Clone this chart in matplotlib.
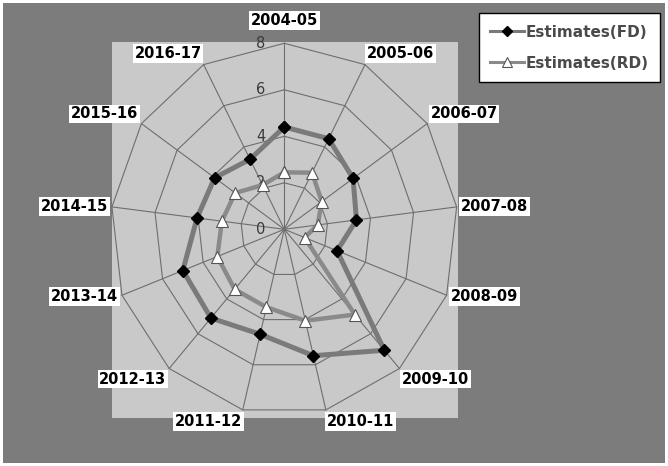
import numpy as np
import matplotlib
matplotlib.use('Agg')
import matplotlib.pyplot as plt
from matplotlib.patches import Rectangle

# categories (fiscal years) and the two estimate series
years = ["2004-05", "2005-06", "2006-07", "2007-08", "2008-09", "2009-10", "2010-11",
         "2011-12", "2012-13", "2013-14", "2014-15", "2015-16", "2016-17"]
fd_values = [4.4, 4.4, 3.85, 3.35, 2.6, 6.95, 5.6, 4.65, 5.1, 5.0, 4.05, 3.9, 3.4]
rd_values = [2.45, 2.75, 2.1, 1.55, 1.0, 4.9, 4.05, 3.45, 3.45, 3.3, 2.9, 2.75, 2.15]
ring_values = [0, 2, 4, 6, 8]

GRID = "#6e6e6e"


def closed(vals):
    return np.append(vals, vals[0])


fig = plt.figure(figsize=(6.68, 4.66), dpi=100)
fig.patch.set_facecolor("#7c7c7c")
fig.patch.set_edgecolor("white")
fig.patch.set_linewidth(3)

# light square plot area behind the radar
fig.add_artist(Rectangle((0.1677, 0.103), 0.518, 0.807, transform=fig.transFigure,
                         facecolor="#c9c9c9", edgecolor="none", zorder=-1))

ax = fig.add_axes([0.1657, 0.1088, 0.5198, 0.7983], projection="polar")
ax.set_aspect("auto")
ax.set_theta_zero_location("N")
ax.set_theta_direction(-1)
ax.set_ylim(0, 8)
ax.patch.set_visible(False)
ax.grid(False)
ax.spines["polar"].set_visible(False)
ax.set_xticks([])
ax.set_yticks([])

angles = np.linspace(0, 2 * np.pi, len(years), endpoint=False)
th = closed(angles)

# polygon rings and spokes
for v in ring_values[1:]:
    ax.plot(th, [v] * len(th), color=GRID, lw=0.8, clip_on=False, zorder=1)
for a in angles:
    ax.plot([a, a], [0, ring_values[-1]], color=GRID, lw=0.8, clip_on=False, zorder=1)

# radial value labels along the top spoke
for v in ring_values:
    ax.annotate(str(v), xy=(0, v), xytext=(-17, 0), textcoords="offset points",
                ha="center", va="center", fontsize=10.5, color="#3a3a3a",
                annotation_clip=False)

# category labels just outside the outer ring
for a, name in zip(angles, years):
    s, c = np.sin(a), np.cos(a)
    ha = "left" if s > 0.01 else ("right" if s < -0.01 else "center")
    va = "bottom" if c > 0.3 else ("top" if c < -0.6 else "center")
    d = 11 if abs(s) < 0.01 else 3
    ax.annotate(name, xy=(a, ring_values[-1]), xytext=(d * s, d * c),
                textcoords="offset points", ha=ha, va=va, fontsize=10.5,
                fontweight="bold", color="black", annotation_clip=False,
                bbox=dict(boxstyle="square,pad=0.12", fc="white", ec="none"))

ax.plot(th, closed(fd_values), color="#7a7a7a", lw=3.6, marker="D", ms=6.5,
        mfc="black", mec="black", label="Estimates(FD)", zorder=3, clip_on=False)
ax.plot(th, closed(rd_values), color="#8a8a8a", lw=3.2, marker="^", ms=9,
        mfc="white", mec="#555555", mew=0.8, label="Estimates(RD)", zorder=3,
        clip_on=False)

leg = fig.legend(loc="upper right", bbox_to_anchor=(0.988, 0.972), borderaxespad=0,
                 frameon=True, fancybox=False, edgecolor="black", facecolor="white",
                 framealpha=1, prop={"weight": "bold", "size": 11},
                 labelcolor="#4a4a4a", handlelength=2.2, borderpad=0.75,
                 labelspacing=1.05, handletextpad=0.1)
# thinner lines / smaller markers in the legend keys
for ln in leg.get_lines():
    ln.set_linewidth(2.2)
    ln.set_markersize(ln.get_markersize() * 0.85)

fig.savefig("out.png", dpi=100, facecolor=fig.get_facecolor(),
            edgecolor=fig.get_edgecolor())
